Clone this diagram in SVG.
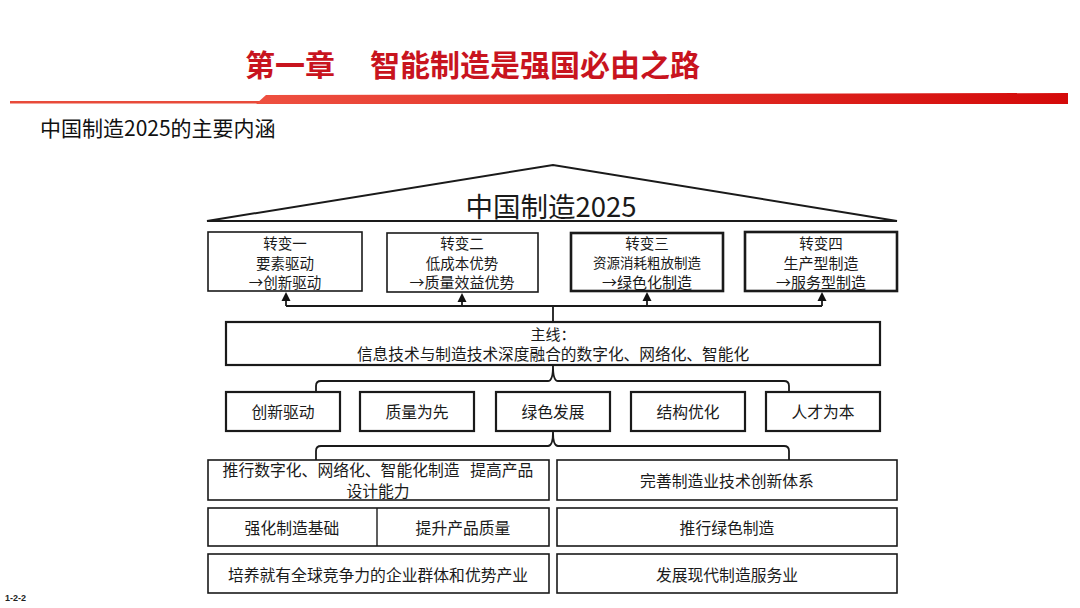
<svg xmlns="http://www.w3.org/2000/svg" width="1080" height="608" viewBox="0 0 1080 608">
<defs>
<linearGradient id="bar" x1="0" y1="0" x2="1" y2="0">
<stop offset="0" stop-color="#EE5040"/>
<stop offset="1" stop-color="#D40A0A"/>
</linearGradient>
<style>
.t{font-family:"Noto Sans CJK SC","Liberation Sans",sans-serif;fill:#1a1a1a;dominant-baseline:central;text-anchor:middle}
.b{fill:#fff;stroke:#1a1a1a;stroke-width:1.6}
.bt{fill:#fff;stroke:#1a1a1a;stroke-width:2.6}
.m{fill:#fff;stroke:#1a1a1a;stroke-width:2.2}
.c{fill:none;stroke:#1a1a1a;stroke-width:1.8}
.ah{fill:#111}
.f15{font-size:15.8px}
.f14{font-size:14.5px}
</style>
</defs>
<rect width="1080" height="608" fill="#fff"/>
<g id="header">
<text x="245" y="63" font-family="Noto Sans CJK SC, sans-serif" font-weight="bold" font-size="30" fill="#C8141E" dominant-baseline="central">第一章</text>
<text x="370" y="63" font-family="Noto Sans CJK SC, sans-serif" font-weight="bold" font-size="30" fill="#C8141E" dominant-baseline="central">智能制造是强国必由之路</text>
<rect x="10" y="101" width="252" height="2.5" fill="#E84A3A"/>
<polygon points="256,104 266,95 1068,93 1068,104" fill="url(#bar)"/>
<text x="40" y="127" font-family="Noto Sans CJK SC, sans-serif" font-size="21" fill="#111" dominant-baseline="central">中国制造2025的主要内涵</text>
</g>
<g id="roof">
<polygon points="207,221 553,165 897,221" fill="#fff" stroke="#1a1a1a" stroke-width="2"/>
<text class="t" x="551" y="205" font-size="27.5">中国制造2025</text>
</g>
<g id="connectors">
<path class="c" d="M286,306 L822,306"/>
<path class="c" d="M286,306 L286,298"/>
<path class="c" d="M462,306 L462,298"/>
<path class="c" d="M647,306 L647,298"/>
<path class="c" d="M822,306 L822,298"/>
<polygon class="ah" points="286,292 281.5,301 290.5,301"/>
<polygon class="ah" points="462,293 457.5,302 466.5,302"/>
<polygon class="ah" points="647,292 642.5,301 651.5,301"/>
<polygon class="ah" points="822,292 817.5,301 826.5,301"/>
<path class="c" d="M553,306 L553,322"/>
<path class="c" d="M316,392 L316,386 Q316,381 321,381 L548,381 Q553,381 553,366 Q553,381 558,381 L784,381 Q789,381 789,386 L789,392"/>
<path class="c" d="M316,460 L316,451 Q316,446 321,446 L548,446 Q553,446 553,432 Q553,446 558,446 L784,446 Q789,446 789,451 L789,460"/>
</g>
<g id="n1">
<rect class="b" x="208" y="232" width="154" height="59"/>
<text class="t f14" x="285" y="242.5">转变一</text>
<text class="t f14" x="285" y="262">要素驱动</text>
<text class="t f14" x="285" y="281.5">→创新驱动</text>
</g>
<g id="n2">
<rect class="b" x="387" y="233" width="151" height="59"/>
<text class="t f14" x="462" y="242.5">转变二</text>
<text class="t f14" x="462" y="262">低成本优势</text>
<text class="t" x="462" y="281.5" font-size="15">→质量效益优势</text>
</g>
<g id="n3">
<rect class="bt" x="571" y="233" width="152" height="58"/>
<text class="t f14" x="647" y="242.5">转变三</text>
<text class="t" x="647" y="262" font-size="13.5">资源消耗粗放制造</text>
<text class="t" x="647" y="281.5" font-size="15">→绿色化制造</text>
</g>
<g id="n4">
<rect class="bt" x="745" y="232" width="152" height="59"/>
<text class="t f14" x="821" y="242.5">转变四</text>
<text class="t" x="821" y="262" font-size="15">生产型制造</text>
<text class="t" x="821" y="281.5" font-size="15">→服务型制造</text>
</g>
<g id="main">
<rect class="m" x="226" y="322" width="654" height="43"/>
<text class="t" x="553" y="333.5" font-size="15">主线：</text>
<text class="t" x="553" y="353.5" font-size="15.7">信息技术与制造技术深度融合的数字化、网络化、智能化</text>
</g>
<g id="p1">
<rect class="m" x="226" y="392" width="114" height="39"/>
<text class="t f15" x="283" y="411">创新驱动</text>
</g>
<g id="p2">
<rect class="m" x="360" y="392" width="114" height="39"/>
<text class="t f15" x="417" y="411">质量为先</text>
</g>
<g id="p3">
<rect class="m" x="496" y="392" width="114" height="39"/>
<text class="t f15" x="553" y="411">绿色发展</text>
</g>
<g id="p4">
<rect class="m" x="631" y="392" width="114" height="39"/>
<text class="t f15" x="688" y="411">结构优化</text>
</g>
<g id="p5">
<rect class="m" x="766" y="392" width="114" height="39"/>
<text class="t f15" x="823" y="411">人才为本</text>
</g>
<g id="r3l">
<rect class="b" x="208" y="460" width="341" height="40"/>
<text class="t f15" x="378" y="469.5" xml:space="preserve">推行数字化、网络化、智能化制造   提高产品</text>
<text class="t f15" x="378" y="490.5">设计能力</text>
</g>
<g id="r3r">
<rect class="b" x="557" y="460" width="340" height="40"/>
<text class="t f15" x="727" y="480">完善制造业技术创新体系</text>
</g>
<g id="r4l">
<rect class="b" x="208" y="508" width="341" height="38"/>
<line x1="377" y1="508" x2="377" y2="546" stroke="#1a1a1a" stroke-width="1.4"/>
<text class="t f15" x="292" y="527">强化制造基础</text>
<text class="t f15" x="463" y="527">提升产品质量</text>
</g>
<g id="r4r">
<rect class="b" x="557" y="508" width="340" height="38"/>
<text class="t f15" x="727" y="527">推行绿色制造</text>
</g>
<g id="r5l">
<rect class="b" x="208" y="554" width="341" height="39"/>
<text class="t f15" x="378" y="574">培养就有全球竞争力的企业群体和优势产业</text>
</g>
<g id="r5r">
<rect class="b" x="557" y="554" width="340" height="39"/>
<text class="t f15" x="727" y="574">发展现代制造服务业</text>
</g>
<text x="5" y="601" font-family="Liberation Sans, sans-serif" font-weight="bold" font-size="9" fill="#222">1-2-2</text>
</svg>
